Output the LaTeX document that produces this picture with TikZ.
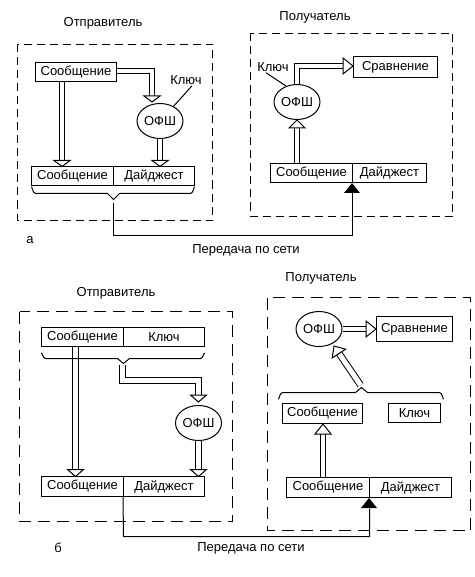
\documentclass[tikz,border=0pt]{standalone}
\usepackage{fontspec}
\setmainfont{Liberation Sans}
\usetikzlibrary{shapes.geometric,calc}
\tikzset{
  box/.style={draw, line width=1pt, inner sep=1pt},
  oval/.style={draw, ellipse, line width=1pt, minimum width=46pt, minimum height=35pt, inner xsep=-3pt, inner ysep=0pt},
  lbl/.style={inner sep=0pt},
  frame/.style={draw, line width=1pt, dash pattern=on 8pt off 5pt},
  framew/.style={draw, line width=1pt, dash pattern=on 12pt off 7pt},
  dbl/.style={draw, line width=1pt, double=white, double distance=4pt},
  dblw/.style={draw, line width=1pt, double=white, double distance=5pt},
  wire/.style={draw, line width=1pt},
}
\newcommand\myhead[4]{\draw[fill=white, line width=1pt, shift={(#1)}, rotate=#2] (0,0) -- (-#3,#4) -- (-#3,-#4) -- cycle;}
\newcommand\mytri[1]{\fill[shift={(#1)}] (0,0) -- (-8,10) -- (8,10) -- cycle;}
\begin{document}
\begin{tikzpicture}[x=1pt, y=-1pt, font=\fontsize{13}{15}\selectfont]
\useasboundingbox (0,0) rectangle (474,577);

% ================= TOP (a) =================
\node[lbl] (ts) at (103,23) {Отправитель};
\node[lbl] (tr) at (315,17) {Получатель};
\draw[frame] (17.5,44.5) rectangle (212.5,220.5);
\draw[frame] (250.5,33.5) rectangle (452.5,216.5);

% sender
\node[box, minimum width=81pt, minimum height=19pt] (m1) at (76,72) {Сообщение};
\node[oval] (o1) at (160,121) {ОФШ};
\node[lbl] (k1) at (186,80) {Ключ};
\node[box, minimum width=82pt, minimum height=19pt] (bm1) at (72.5,176) {Сообщение};
\node[box, minimum width=81pt, minimum height=19pt] (bd1) at (154,176) {Дайджест};
\draw[wire] (k1.south) ++(6,1) -- (173,107);

\draw[dbl] (m1.south -| 62,0) -- (62,160.5);
\myhead{62,166.5}{-90}{6}{8}
\draw[dbl] (m1.east |- 0,71) -- (152,71) -- (152,96);
\myhead{152,102}{-90}{6}{8}
\draw[dbl] (o1.south) -- (160,160.5);
\myhead{160,166.5}{-90}{6}{8}

\coordinate (br1) at (113.5,199.5);
\draw[wire] (31.5,187.5) to[out=90,in=180] (35.5,193.5) -- (107.5,193.5) -- (br1) -- (119.5,193.5) -- (190.5,193.5) to[out=0,in=90] (194.5,187.5);

% receiver
\node[box, minimum width=84pt, minimum height=21pt] (c1) at (395.5,67) {Сравнение};
\node[oval] (oR1) at (297,102) {ОФШ};
\node[lbl] (kR1) at (273,67) {Ключ};
\node[box, minimum width=82pt, minimum height=19pt] (bmR1) at (311.5,173) {Сообщение};
\node[box, minimum width=74pt, minimum height=19pt] (bdR1) at (389.5,173) {Дайджест};
\draw[wire] (kR1.south) ++(-7,1) -- (286,86);

\draw[dbl] (bmR1.north -| 297,0) -- (297,127);
\myhead{oR1.south}{90}{8}{8}
\draw[dbl] (oR1.north) -- (297,66) -- (343.5,66);
\myhead{c1.west |- 0,66}{0}{10}{8}

\coordinate (t1) at (352.5,192.5);
\mytri{bdR1.south west}
\draw[wire] (113.5,203) -- (113.5,235.5) -| (t1);

\node[lbl] (net1) at (246,250) {Передача по сети};
\node[lbl] (la) at (30,240) {а};

% ================= BOTTOM (б) =================
\node[lbl] (bs) at (116,293) {Отправитель};
\node[lbl] (brx) at (321,278) {Получатель};
\draw[framew] (19.5,311.5) rectangle (232.5,521.5);
\draw[framew] (267.5,297.5) rectangle (470.5,530.5);

% sender
\node[box, minimum width=82pt, minimum height=19pt] (m2) at (82.5,337) {Сообщение};
\node[box, minimum width=81pt, minimum height=19pt] (k2) at (164,337) {Ключ};
\node[oval] (o2) at (198.5,423) {ОФШ};
\node[box, minimum width=82pt, minimum height=20pt] (bm2) at (82.5,486.5) {Сообщение};
\node[box, minimum width=81pt, minimum height=20pt] (bd2) at (164,486.5) {Дайджест};

\draw[dblw] (m2.south -| 75.5,0) -- (75.5,469.5);
\myhead{75.5,476.5}{-90}{7}{8}
\draw[dblw] (122.5,365) -- (122.5,380.5) -- (198.5,380.5) -- (198.5,395);
\myhead{198.5,402}{-90}{7}{8}
\draw[dblw] (o2.south) -- (198.5,469.5);
\myhead{198.5,476.5}{-90}{7}{8}

\coordinate (br2) at (123.5,363.5);
\draw[wire] (41.5,353.5) to[out=90,in=180] (45.5,358.5) -- (117.5,358.5) -- (br2) -- (129.5,358.5) -- (200.5,358.5) to[out=0,in=90] (204.5,353.5);

% receiver
\node[oval] (oR2) at (319,329) {ОФШ};
\node[box, minimum width=76pt, minimum height=25pt] (c2) at (414.5,329) {Сравнение};
\node[box, minimum width=80pt, minimum height=20pt] (mR2) at (322.5,413.5) {Сообщение};
\node[box, minimum width=52pt, minimum height=19pt] (kR2) at (414.5,413) {Ключ};
\node[box, minimum width=83pt, minimum height=20pt] (bmR2) at (328,487.5) {Сообщение};
\node[box, minimum width=82pt, minimum height=20pt] (bdR2) at (410.5,487.5) {Дайджест};

\draw[dbl] (oR2.east) -- (367,329);
\myhead{c2.west}{0}{10}{8}

\coordinate (br3) at (361.5,387.5);
\draw[wire] (278.5,398.5) to[out=-90,in=180] (282.5,392.5) -- (355.5,392.5) -- (br3) -- (367.5,392.5) -- (439.5,392.5) to[out=0,in=-90] (443.5,398.5);
\coordinate (dtip) at (334,346);
\coordinate (dstart) at (360.5,385);
\draw[dblw] (dstart) -- ($(dtip)!9pt!(dstart)$);
\myhead{dtip}{123}{9}{8}

\draw[dbl] (bmR2.north -| 323,0) -- (323,433.5);
\myhead{mR2.south -| 323,0}{90}{10}{8}

\coordinate (t2) at (369.5,508.5);
\mytri{bdR2.south west}
\draw[wire] (bd2.south west) -- (123.5,536.5) -| (t2);

\node[lbl] (net2) at (251,548) {Передача по сети};
\node[lbl] (lb) at (58,548) {б};
\end{tikzpicture}
\end{document}
